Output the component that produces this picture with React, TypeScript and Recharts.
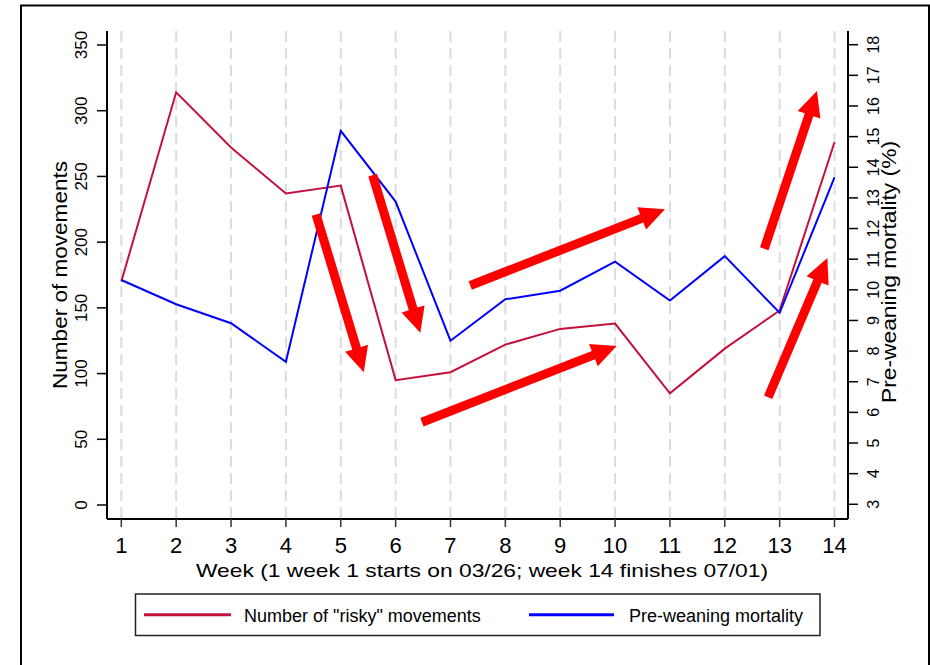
import React from 'react';
import {
  ComposedChart,
  Line,
  XAxis,
  YAxis,
  CartesianGrid,
  ReferenceLine,
  Customized,
} from 'recharts';

// ---- data ----
const weeks = [1, 2, 3, 4, 5, 6, 7, 8, 9, 10, 11, 12, 13, 14];
const riskyMovements = [170, 314, 272, 237, 243, 95, 101, 122, 134, 138, 85, 119, 148, 276];
const preWeaningMortality = [10.32, 9.53, 8.91, 7.65, 15.19, 12.88, 8.34, 9.69, 9.97, 10.92, 9.65, 11.1, 9.25, 13.67];
const leftTicks = [0, 50, 100, 150, 200, 250, 300, 350];
const rightTicks = [3, 4, 5, 6, 7, 8, 9, 10, 11, 12, 13, 14, 15, 16, 17, 18];

// annotation arrows (week, number-of-movements units)
const arrowFromWeek = [4.55, 5.58, 7.36, 6.48, 12.72, 12.79];
const arrowFromValue = [221, 251, 167, 63, 195, 82];
const arrowToWeek = [5.42, 6.45, 10.91, 10.03, 13.68, 13.87];
const arrowToValue = [101, 131, 225, 121, 315, 188];

const xTitle = 'Week (1 week 1 starts on 03/26; week 14 finishes 07/01)';
const leftTitle = 'Number of movements';
const rightTitle = 'Pre-weaning mortality (%)';
const seriesNames = ['Number of "risky" movements', 'Pre-weaning mortality'];

const data = weeks.map((w, i) => ({
  week: w,
  risky: riskyMovements[i],
  mortality: preWeaningMortality[i],
}));

const FONT = '"Liberation Sans", Arial, Helvetica, sans-serif';
const RED = '#c4103c';
const BLUE = '#0000ff';

const XTick = (props: any) => {
  const { x, y, payload } = props;
  return (
    <text x={x} y={y + 26} textAnchor="middle" fontSize={22} fill="#000" fontFamily={FONT}>
      {payload.value}
    </text>
  );
};

const LeftTick = (props: any) => {
  const { x, y, payload } = props;
  return (
    <text
      x={x}
      y={y}
      transform={`rotate(-90 ${x} ${y})`}
      textAnchor="middle"
      fontSize={17}
      fill="#000"
      fontFamily={FONT}
    >
      {payload.value}
    </text>
  );
};

const RightTick = (props: any) => {
  const { x, y, payload } = props;
  return (
    <text
      x={x}
      y={y}
      transform={`rotate(-90 ${x} ${y})`}
      textAnchor="middle"
      fontSize={16}
      fill="#000"
      fontFamily={FONT}
    >
      {payload.value}
    </text>
  );
};

const ArrowShape = (props: any) => {
  const { x1, y1, x2, y2 } = props;
  if ([x1, y1, x2, y2].some((v) => typeof v !== 'number' || isNaN(v))) return null;
  const dx = x2 - x1;
  const dy = y2 - y1;
  const len = Math.hypot(dx, dy) || 1;
  const ux = dx / len;
  const uy = dy / len;
  const px = -uy;
  const py = ux;
  const headLen = 25;
  const headW = 12;
  const shaftW = 4.5;
  const bx = x2 - ux * headLen;
  const by = y2 - uy * headLen;
  const pts = [
    [x1 + px * shaftW, y1 + py * shaftW],
    [bx + px * shaftW, by + py * shaftW],
    [bx + px * headW, by + py * headW],
    [x2, y2],
    [bx - px * headW, by - py * headW],
    [bx - px * shaftW, by - py * shaftW],
    [x1 - px * shaftW, y1 - py * shaftW],
  ]
    .map((p) => `${p[0]},${p[1]}`)
    .join(' ');
  return <polygon points={pts} fill="#ff0000" stroke="none" />;
};

const Decorations = () => (
  <g fontFamily={FONT}>
    {/* outer graph frame */}
    <path d="M21,666 V5.5 H929 V666" fill="none" stroke="#000" strokeWidth={2} />
    {/* axis titles */}
    <text
      x={67}
      y={275}
      transform="rotate(-90 67 275)"
      textAnchor="middle"
      fontSize={20}
      textLength={228}
      lengthAdjust="spacingAndGlyphs"
      fill="#000"
    >
      {leftTitle}
    </text>
    <text
      x={896}
      y={272}
      transform="rotate(-90 896 272)"
      textAnchor="middle"
      fontSize={20}
      textLength={262}
      lengthAdjust="spacingAndGlyphs"
      fill="#000"
    >
      {rightTitle}
    </text>
    <text
      x={482}
      y={576.5}
      textAnchor="middle"
      fontSize={19}
      textLength={572}
      lengthAdjust="spacingAndGlyphs"
      fill="#000"
    >
      {xTitle}
    </text>
    {/* legend */}
    <rect x={135.5} y={594} width={684.5} height={41.5} fill="#fff" stroke="#222" strokeWidth={1.5} />
    <line x1={144} y1={614.7} x2={231} y2={614.7} stroke={RED} strokeWidth={3} />
    <text x={244} y={621.5} fontSize={18} fill="#000">
      {seriesNames[0]}
    </text>
    <line x1={529} y1={614.7} x2={614} y2={614.7} stroke={BLUE} strokeWidth={3} />
    <text x={629} y={621.5} fontSize={18} fill="#000">
      {seriesNames[1]}
    </text>
  </g>
);

export default function App() {
  return (
    <div style={{ position: 'absolute', left: 0, top: 0, width: 930, height: 665, background: '#fff' }}>
      <ComposedChart
        width={930}
        height={665}
        data={data}
        margin={{ top: 31, right: 0, bottom: 86, left: 0 }}
        style={{ fontFamily: FONT }}
      >
        <CartesianGrid
          xAxisId="bottom"
          yAxisId="left"
          vertical
          horizontal={false}
          stroke="#dcdcdc"
          strokeWidth={2}
          strokeDasharray="11 6"
        />
        <XAxis
          xAxisId="bottom"
          dataKey="week"
          type="number"
          domain={[0.739, 14.246]}
          allowDataOverflow
          ticks={weeks}
          interval={0}
          height={60}
          tickSize={8}
          tickMargin={0}
          tickLine={{ stroke: '#333', strokeWidth: 1.5 }}
          axisLine={{ stroke: '#000', strokeWidth: 2 }}
          tick={<XTick />}
        />
        <XAxis
          xAxisId="top"
          orientation="top"
          type="number"
          dataKey="week"
          domain={[0.739, 14.246]}
          allowDataOverflow
          height={0}
          tick={false}
          tickLine={false}
          axisLine={{ stroke: '#000', strokeWidth: 1.2 }}
        />
        <YAxis
          yAxisId="left"
          type="number"
          width={107}
          domain={[-10.65, 360.65]}
          allowDataOverflow
          ticks={leftTicks}
          interval={0}
          tickSize={10}
          tickMargin={10}
          tickLine={{ stroke: '#000', strokeWidth: 1.5 }}
          axisLine={{ stroke: '#000', strokeWidth: 2 }}
          tick={<LeftTick />}
        />
        <YAxis
          yAxisId="right"
          orientation="right"
          type="number"
          width={82}
          domain={[2.52, 18.447]}
          allowDataOverflow
          ticks={rightTicks}
          interval={0}
          tickSize={10}
          tickMargin={21}
          tickLine={{ stroke: '#000', strokeWidth: 1.5 }}
          axisLine={{ stroke: '#000', strokeWidth: 2 }}
          tick={<RightTick />}
        />
        <Line
          xAxisId="bottom"
          yAxisId="left"
          type="linear"
          dataKey="risky"
          stroke={RED}
          strokeWidth={2}
          dot={false}
          activeDot={false}
          isAnimationActive={false}
        />
        <Line
          xAxisId="bottom"
          yAxisId="right"
          type="linear"
          dataKey="mortality"
          stroke={BLUE}
          strokeWidth={2}
          dot={false}
          activeDot={false}
          isAnimationActive={false}
        />
        {arrowFromWeek.map((w, i) => (
          <ReferenceLine
            key={`arrow-${i}`}
            xAxisId="bottom"
            yAxisId="left"
            ifOverflow="visible"
            segment={[
              { x: w, y: arrowFromValue[i] },
              { x: arrowToWeek[i], y: arrowToValue[i] },
            ]}
            shape={ArrowShape}
          />
        ))}
        <Customized component={Decorations} />
      </ComposedChart>
    </div>
  );
}
